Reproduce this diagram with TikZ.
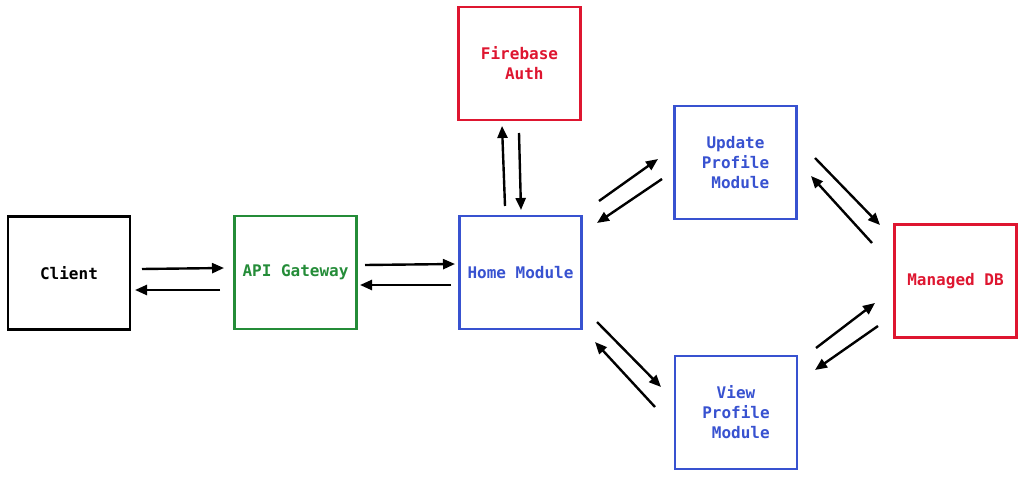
\documentclass[tikz,border=0pt]{standalone}
\usepackage{fontspec}
\setmonofont{DejaVu Sans Mono}
\usetikzlibrary{arrows.meta}
\definecolor{cgreen}{RGB}{36,140,56}
\definecolor{cblue}{RGB}{56,82,208}
\definecolor{cred}{RGB}{222,22,48}
\tikzset{
  box/.style={draw, line width=2.4pt, minimum width=122pt, minimum height=113pt, inner sep=0pt,
    font=\ttfamily\bfseries\fontsize{16}{20}\selectfont, align=center},
  flow/.style={line width=2.4pt, -{Triangle[length=12pt,width=10pt]}}
}
\begin{document}
\begin{tikzpicture}[x=1pt,y=-1pt]
\useasboundingbox (0,0) rectangle (1024,478);
\node[box, black] (client) at (69,273) {Client};
\node[box, cgreen, text=cgreen] (api) at (295.5,272.5) {API Gateway};
\node[box, cblue, text=cblue] (home) at (520.5,272.5) {Home Module};
\node[box, cred, text=cred] (fire) at (519.5,63.5) {Firebase\\\phantom{x}Auth};
\node[box, cblue, text=cblue] (upd) at (735.5,162.5) {Update\\Profile\\\phantom{x}Module};
\node[box, cred, text=cred] (db) at (955.5,281) {Managed DB};
\node[box, cblue, text=cblue] (view) at (736,412.5) {View\\Profile\\\phantom{x}Module};
% connector end points
\coordinate (c1a) at (142,269); \coordinate (c1b) at (224,268);
\coordinate (c2a) at (220,290); \coordinate (c2b) at (135,290);
\coordinate (c3a) at (365,265); \coordinate (c3b) at (455,264);
\coordinate (c4a) at (451,285); \coordinate (c4b) at (360,285);
\coordinate (c5a) at (505,206); \coordinate (c5b) at (502,126);
\coordinate (c6a) at (519,133); \coordinate (c6b) at (521,210);
\coordinate (c7a) at (599,201); \coordinate (c7b) at (658,159);
\coordinate (c8a) at (662,179); \coordinate (c8b) at (597,223);
\coordinate (c9a) at (815,158); \coordinate (c9b) at (880,225);
\coordinate (c10a) at (872,243); \coordinate (c10b) at (811,176);
\coordinate (c11a) at (597,322); \coordinate (c11b) at (661,387);
\coordinate (c12a) at (655,407); \coordinate (c12b) at (595,342);
\coordinate (c13a) at (816,348); \coordinate (c13b) at (875,303);
\coordinate (c14a) at (878,326); \coordinate (c14b) at (815,370);
\draw[flow] (c1a) -- (c1b);
\draw[flow] (c2a) -- (c2b);
\draw[flow] (c3a) -- (c3b);
\draw[flow] (c4a) -- (c4b);
\draw[flow] (c5a) -- (c5b);
\draw[flow] (c6a) -- (c6b);
\draw[flow] (c7a) -- (c7b);
\draw[flow] (c8a) -- (c8b);
\draw[flow] (c9a) -- (c9b);
\draw[flow] (c10a) -- (c10b);
\draw[flow] (c11a) -- (c11b);
\draw[flow] (c12a) -- (c12b);
\draw[flow] (c13a) -- (c13b);
\draw[flow] (c14a) -- (c14b);
\end{tikzpicture}
\end{document}
